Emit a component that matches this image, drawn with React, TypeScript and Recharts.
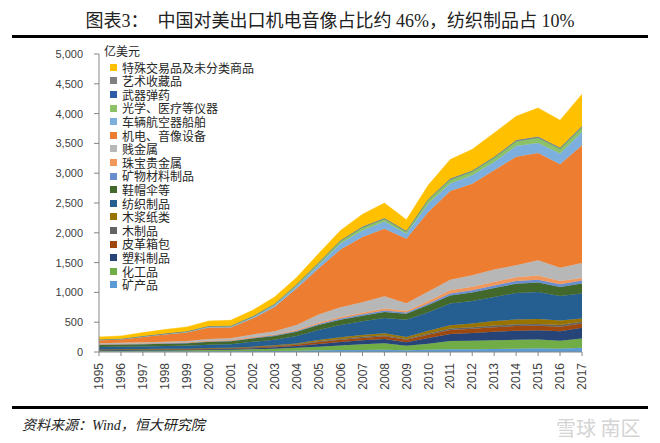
import { AreaChart, Area, XAxis, YAxis, Legend } from "recharts";

const years = [
  "1995", "1996", "1997", "1998", "1999", "2000", "2001", "2002", "2003", "2004", "2005", "2006",
  "2007", "2008", "2009", "2010", "2011", "2012", "2013", "2014", "2015", "2016", "2017",
];

// 亿美元, bottom of the stack first
const kuangChanPin = [8, 8, 9, 9, 10, 12, 13, 15, 18, 22, 28, 32, 35, 38, 28, 38, 45, 48, 52, 55, 65, 55, 70];
const huaGongPin = [14, 15, 16, 17, 18, 22, 25, 32, 38, 48, 62, 78, 95, 108, 75, 100, 140, 142, 144, 150, 143, 135, 155];
const suLiao = [8, 9, 9, 10, 10, 12, 12, 16, 22, 30, 46, 58, 66, 72, 62, 95, 115, 128, 145, 152, 157, 160, 180];
const piGe = [7, 8, 8, 9, 9, 10, 10, 13, 16, 20, 30, 36, 40, 45, 40, 57, 68, 73, 75, 78, 75, 72, 73];
const muZhiPin = [3, 3, 3, 4, 4, 5, 5, 6, 7, 9, 13, 16, 18, 18, 15, 22, 25, 26, 28, 30, 30, 30, 28];
const muJiang = [4, 4, 5, 5, 5, 6, 6, 8, 11, 15, 22, 27, 30, 34, 30, 45, 55, 63, 76, 80, 82, 78, 54];
const fangZhi = [40, 41, 43, 45, 47, 55, 58, 80, 95, 125, 170, 205, 230, 255, 290, 310, 365, 377, 404, 445, 456, 410, 420];
const xieMao = [35, 36, 38, 40, 42, 48, 50, 58, 62, 70, 80, 90, 95, 100, 100, 120, 135, 140, 148, 155, 157, 150, 168];
const kuangWu = [5, 5, 5, 6, 6, 7, 7, 9, 11, 14, 18, 22, 24, 27, 22, 28, 35, 38, 42, 45, 48, 45, 50];
const zhuBao = [7, 7, 8, 8, 9, 11, 11, 13, 15, 18, 22, 25, 27, 32, 28, 40, 55, 58, 62, 65, 70, 55, 45];
const jianJinShu = [17, 18, 20, 21, 24, 30, 32, 45, 55, 80, 140, 160, 175, 205, 130, 160, 175, 195, 210, 200, 255, 225, 250];
const jiDian = [48, 54, 88, 118, 142, 192, 181, 265, 406, 614, 769, 971, 1095, 1136, 1080, 1335, 1487, 1537, 1664, 1820, 1802, 1735, 1977];
const cheLiang = [6, 7, 8, 10, 11, 14, 15, 20, 28, 40, 60, 100, 110, 120, 84, 140, 129, 140, 140, 180, 168, 180, 220];
const guangXue = [4, 4, 5, 6, 7, 9, 10, 13, 17, 22, 30, 45, 55, 45, 39, 67, 67, 67, 73, 84, 90, 84, 85];
const wuQi = [1, 1, 1, 1, 1, 1, 1, 1, 1, 2, 2, 2, 2, 2, 2, 2, 3, 3, 3, 3, 3, 3, 4];
const yiShu = [2, 2, 3, 3, 3, 4, 4, 5, 6, 7, 8, 9, 10, 10, 9, 10, 11, 12, 12, 13, 14, 13, 14];
const teShu = [43, 46, 57, 64, 72, 82, 92, 101, 116, 114, 150, 164, 203, 253, 186, 231, 320, 353, 397, 400, 480, 460, 532];

const yTicks = [0, 500, 1000, 1500, 2000, 2500, 3000, 3500, 4000, 4500, 5000];

const series = [
  { key: "kcp", name: "矿产品", color: "#5B9BD5", values: kuangChanPin },
  { key: "hgp", name: "化工品", color: "#70AD47", values: huaGongPin },
  { key: "sl", name: "塑料制品", color: "#264478", values: suLiao },
  { key: "pg", name: "皮革箱包", color: "#9E480E", values: piGe },
  { key: "mzp", name: "木制品", color: "#636363", values: muZhiPin },
  { key: "mj", name: "木浆纸类", color: "#997300", values: muJiang },
  { key: "fz", name: "纺织制品", color: "#255E91", values: fangZhi },
  { key: "xm", name: "鞋帽伞等", color: "#43682B", values: xieMao },
  { key: "kw", name: "矿物材料制品", color: "#698ED0", values: kuangWu },
  { key: "zb", name: "珠宝贵金属", color: "#F1975A", values: zhuBao },
  { key: "jjs", name: "贱金属", color: "#B7B7B7", values: jianJinShu },
  { key: "jd", name: "机电、音像设备", color: "#ED7D31", values: jiDian },
  { key: "cl", name: "车辆航空器船舶", color: "#7CAFDD", values: cheLiang },
  { key: "gx", name: "光学、医疗等仪器", color: "#8CC168", values: guangXue },
  { key: "wq", name: "武器弹药", color: "#2E5CA8", values: wuQi },
  { key: "ys", name: "艺术收藏品", color: "#808080", values: yiShu },
  { key: "ts", name: "特殊交易品及未分类商品", color: "#FFC000", values: teShu },
];

const data = years.map((year, i) => {
  const row: Record<string, string | number> = { year };
  series.forEach((s) => {
    row[s.key] = s.values[i];
  });
  return row;
});

const cjk = "'Noto Sans CJK SC', 'Liberation Sans', sans-serif";
const songish = "'Liberation Serif', 'Noto Sans CJK SC', serif";

function YearTick({ x, y, payload }: any) {
  return (
    <g transform={`translate(${x},${y + 5}) rotate(-90)`}>
      <text x={0} y={0} dy="0.35em" textAnchor="end" fill="#404040" fontSize={12} fontFamily="'Liberation Sans', sans-serif">
        {payload.value}
      </text>
    </g>
  );
}

const rowH = 13.6;

function LegendList() {
  return (
    <div style={{ fontFamily: cjk, fontSize: 12, color: "#262626", lineHeight: `${rowH}px` }}>
      <div style={{ marginBottom: 3 }}>亿美元</div>
      {[...series].reverse().map((s) => (
        <div key={s.key} style={{ display: "flex", alignItems: "center", height: rowH }}>
          <span style={{ width: 7, height: 7, background: s.color, marginLeft: 6, marginRight: 5, flexShrink: 0 }} />
          <span style={{ whiteSpace: "nowrap" }}>{s.name}</span>
        </div>
      ))}
    </div>
  );
}

export default function App() {
  return (
    <div style={{ position: "absolute", left: 0, top: 0, width: 660, height: 443, background: "#fff", overflow: "hidden" }}>
      <div
        style={{
          position: "absolute", left: 0, top: 6, width: 660, textAlign: "center",
          fontFamily: songish, fontSize: 18, color: "#222", whiteSpace: "pre",
        }}
      >
        图表3：  中国对美出口机电音像占比约 46%，纺织制品占 10%
      </div>
      <div style={{ position: "absolute", left: 12, top: 35, width: 636, height: 3, background: "#000" }} />

      <div style={{ position: "absolute", left: 0, top: 0 }}>
        <AreaChart width={660} height={400} data={data} margin={{ top: 54, right: 78, left: 0, bottom: 8 }}>
          <XAxis
            dataKey="year"
            interval={0}
            tick={<YearTick />}
            tickSize={4}
            stroke="#868686"
            height={40}
          />
          <YAxis
            domain={[0, 5000]}
            ticks={yTicks}
            width={99}
            tickSize={5}
            tickMargin={11}
            stroke="#868686"
            tick={{ fill: "#404040", fontSize: 11, fontFamily: "'Liberation Sans', sans-serif" }}
            tickFormatter={(v: number) => v.toLocaleString("en-US")}
          />
          <Legend
            layout="vertical"
            align="center"
            verticalAlign="middle"
            wrapperStyle={{ left: 104, top: 44, width: 200 }}
            content={<LegendList />}
          />
          {series.map((s) => (
            <Area
              key={s.key}
              type="linear"
              dataKey={s.key}
              name={s.name}
              stackId="1"
              fill={s.color}
              fillOpacity={1}
              stroke={s.color}
              strokeWidth={0.5}
              isAnimationActive={false}
            />
          ))}
        </AreaChart>
      </div>

      <div style={{ position: "absolute", left: 12, top: 406, width: 636, height: 3, background: "#000" }} />
      <div
        style={{
          position: "absolute", left: 22, top: 414, fontFamily: songish, fontSize: 14,
          fontStyle: "italic", color: "#222",
        }}
      >
        资料来源：Wind，恒大研究院
      </div>
      <div
        style={{
          position: "absolute", left: 556, top: 413, fontFamily: cjk, fontSize: 20,
          color: "#d4d4d4", whiteSpace: "pre",
        }}
      >
        雪球 南区
      </div>
    </div>
  );
}
